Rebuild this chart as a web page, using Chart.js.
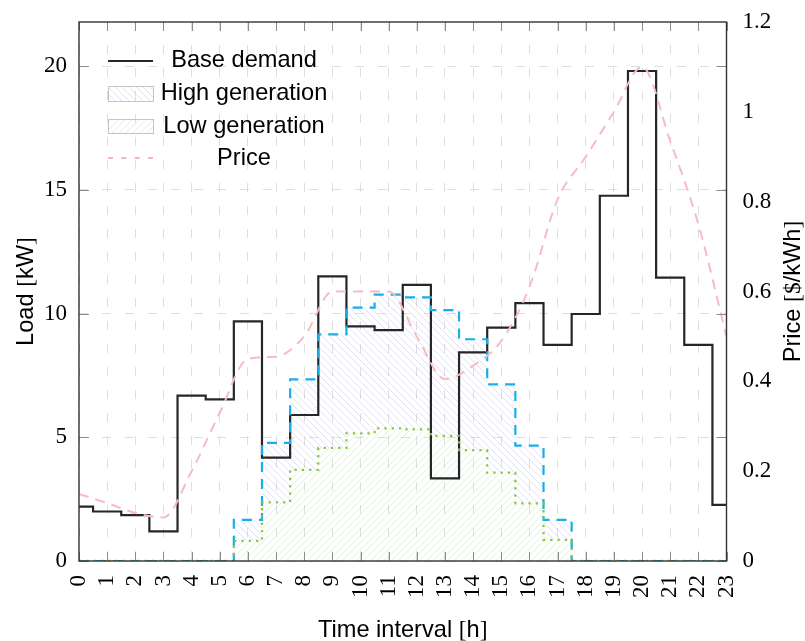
<!DOCTYPE html>
<html>
<head>
<meta charset="utf-8">
<script src="https://cdn.jsdelivr.net/npm/chart.js@4.4.0/dist/chart.umd.min.js"></script>
<style>
  html, body { margin: 0; padding: 0; background: #fff; }
  #wrap { width: 805px; height: 641px; position: relative; }
</style>
</head>
<body>
<div id="wrap"><canvas id="chart"></canvas></div>
<script>
// ---- data ----
const hourLabels = ["0","1","2","3","4","5","6","7","8","9","10","11","12","13","14","15","16","17","18","19","20","21","22","23"];
const baseDemand = [2.2, 2.0, 1.85, 1.2, 6.68, 6.53, 9.68, 4.18, 5.9, 11.5, 9.48, 9.33, 11.16, 3.34, 8.43, 9.43, 10.42, 8.73, 9.98, 14.76, 19.8, 11.45, 8.73, 2.27];
const highGeneration = [0, 0, 0, 0, 0, 0, 1.66, 4.77, 7.34, 9.16, 10.24, 10.76, 10.65, 10.14, 8.96, 7.14, 4.66, 1.66, 0, 0, 0, 0, 0, 0];
const lowGeneration = [0, 0, 0, 0, 0, 0, 0.81, 2.37, 3.68, 4.57, 5.16, 5.36, 5.32, 5.06, 4.48, 3.57, 2.33, 0.85, 0, 0, 0, 0, 0, 0];
const price = [0.149, 0.129, 0.107, 0.097, 0.2, 0.33, 0.45, 0.455, 0.5, 0.6, 0.6, 0.6, 0.5, 0.405, 0.435, 0.49, 0.61, 0.805, 0.9, 1.0, 1.1, 0.935, 0.75, 0.5];
const loadMax = 21.78;
const priceMax = 1.2;

const SANS = '"Liberation Sans", Arial, sans-serif';
const SERIF = '"Liberation Serif", "Times New Roman", serif';
const gridColor = "#dedede";
const gridDash = [9, 14];

const canvas = document.getElementById("chart");
const ctx0 = canvas.getContext("2d");

// hatch patterns for the generation areas
function hatch(color, forward) {
  const s = 7;
  const c = document.createElement("canvas");
  c.width = s; c.height = s;
  const g = c.getContext("2d");
  g.strokeStyle = color;
  g.lineWidth = 1;
  g.beginPath();
  if (forward) {
    g.moveTo(0, s); g.lineTo(s, 0);
    g.moveTo(-1, 1); g.lineTo(1, -1);
    g.moveTo(s - 1, s + 1); g.lineTo(s + 1, s - 1);
  } else {
    g.moveTo(0, 0); g.lineTo(s, s);
    g.moveTo(-1, s - 1); g.lineTo(1, s + 1);
    g.moveTo(s - 1, -1); g.lineTo(s + 1, 1);
  }
  g.stroke();
  return ctx0.createPattern(c, "repeat");
}
const highHatch = hatch("rgba(160,160,240,0.32)", false);
const lowHatch = hatch("rgba(150,220,150,0.3)", true);

function fmt(v) { return String(+v.toFixed(2)); }

// text with mixed fonts (sans words, serif brackets)
function drawParts(ctx, parts, x, y, align) {
  let total = 0;
  parts.forEach(p => { ctx.font = p[1]; total += ctx.measureText(p[0]).width; });
  let cx = align === "center" ? x - total / 2 : x;
  ctx.textAlign = "left";
  parts.forEach(p => {
    ctx.font = p[1];
    ctx.fillText(p[0], cx, y);
    cx += ctx.measureText(p[0]).width;
  });
}

const fSans = "23.6px " + SANS;
const fSerif = "23.6px " + SERIF;

const decor = {
  id: "decor",
  afterDraw(chart) {
    const { ctx, chartArea: a, scales } = chart;
    ctx.save();
    // inward tick marks on all four sides
    ctx.strokeStyle = "#8c8c8c";
    ctx.lineWidth = 1;
    ctx.setLineDash([]);
    ctx.beginPath();
    scales.x.ticks.forEach((t, i) => {
      const px = Math.round(scales.x.getPixelForTick(i)) + 0.5;
      ctx.moveTo(px, a.bottom); ctx.lineTo(px, a.bottom - 9);
      ctx.moveTo(px, a.top); ctx.lineTo(px, a.top + 9);
    });
    scales.y.ticks.forEach(t => {
      const py = Math.round(scales.y.getPixelForValue(t.value)) + 0.5;
      ctx.moveTo(a.left, py); ctx.lineTo(a.left + 10, py);
      ctx.moveTo(a.right, py); ctx.lineTo(a.right - 10, py);
    });
    ctx.stroke();

    // frame
    ctx.strokeStyle = "#333";
    ctx.lineWidth = 1.4;
    ctx.strokeRect(a.left, a.top, a.right - a.left, a.bottom - a.top);

    // axis titles
    ctx.fillStyle = "#000";
    ctx.textBaseline = "alphabetic";
    const midX = (a.left + a.right) / 2;
    const midY = (a.top + a.bottom) / 2;
    drawParts(ctx, [["Time interval ", fSans], ["[", fSerif], ["h", fSans], ["]", fSerif]], midX, 637, "center");
    ctx.save();
    ctx.translate(33, midY);
    ctx.rotate(-Math.PI / 2);
    drawParts(ctx, [["Load ", fSans], ["[", fSerif], ["kW", fSans], ["]", fSerif]], 0, 0, "center");
    ctx.restore();
    ctx.save();
    ctx.translate(800, midY);
    ctx.rotate(-Math.PI / 2);
    drawParts(ctx, [["Price ", fSans], ["[$", fSerif], ["/kWh", fSans], ["]", fSerif]], 0, 0, "center");
    ctx.restore();

    // legend
    const lx0 = 108, lx1 = 153, tx = 244;
    ctx.font = fSans;
    ctx.textAlign = "center";
    ctx.strokeStyle = "#262626";
    ctx.lineWidth = 2.2;
    ctx.beginPath(); ctx.moveTo(lx0, 61); ctx.lineTo(lx1, 61); ctx.stroke();
    ctx.fillText("Base demand", tx, 67);

    ctx.fillStyle = highHatch;
    ctx.fillRect(lx0, 86, lx1 - lx0, 15);
    ctx.strokeStyle = "#c4c4c4"; ctx.lineWidth = 1;
    ctx.strokeRect(lx0 + 0.5, 86.5, lx1 - lx0, 15);
    ctx.fillStyle = "#000";
    ctx.fillText("High generation", tx, 100);

    ctx.fillStyle = lowHatch;
    ctx.fillRect(lx0, 119, lx1 - lx0, 14);
    ctx.strokeRect(lx0 + 0.5, 119.5, lx1 - lx0, 14);
    ctx.fillStyle = "#000";
    ctx.fillText("Low generation", tx, 133);

    ctx.strokeStyle = "#f6b7bb"; ctx.lineWidth = 2;
    ctx.setLineDash([5, 8.3]);
    ctx.beginPath(); ctx.moveTo(lx0, 158); ctx.lineTo(lx1 + 2, 158); ctx.stroke();
    ctx.setLineDash([]);
    ctx.fillText("Price", tx, 165);
    ctx.restore();
  }
};

// keep the plot box where the figure has it
function fixY(w) {
  return s => { s.width = w; s.paddingTop = 0; s.paddingBottom = 0; };
}

const tickFont = { family: SERIF, size: 23 };

const chart = new Chart(canvas, {
  type: "line",
  data: {
    labels: hourLabels,
    datasets: [
      {
        label: "Base demand",
        data: baseDemand,
        stepped: "middle",
        borderColor: "#262626",
        borderWidth: 2.2,
        pointRadius: 0,
        fill: false,
        yAxisID: "y",
        order: 4,
      },
      {
        label: "High generation",
        data: highGeneration,
        stepped: "middle",
        borderColor: "#19aeea",
        borderWidth: 2.2,
        borderDash: [10, 7],
        pointRadius: 0,
        fill: 2,
        backgroundColor: highHatch,
        yAxisID: "y",
        order: 3,
      },
      {
        label: "Low generation",
        data: lowGeneration,
        stepped: "middle",
        borderColor: "#8cc63e",
        borderWidth: 2.3,
        borderDash: [2.3, 5],
        pointRadius: 0,
        fill: "origin",
        backgroundColor: lowHatch,
        yAxisID: "y",
        order: 2,
      },
      {
        label: "Price",
        data: price,
        borderColor: "#f7bcc0",
        borderWidth: 2,
        borderDash: [10, 7],
        cubicInterpolationMode: "monotone",
        pointRadius: 0,
        fill: false,
        yAxisID: "yPrice",
        order: 1,
      },
    ],
  },
  options: {
    responsive: true,
    maintainAspectRatio: false,
    animation: false,
    layout: { padding: { top: 22, left: 0, right: 0, bottom: 0 } },
    plugins: {
      legend: { display: false },
      tooltip: { enabled: false },
      filler: { drawTime: "beforeDatasetsDraw" },
    },
    scales: {
      x: {
        type: "category",
        offset: false,
        grid: { color: gridColor, lineWidth: 1, drawTicks: false },
        border: { display: false, dash: gridDash },
        ticks: {
          autoSkip: false,
          maxRotation: 90,
          minRotation: 90,
          padding: 14,
          color: "#000",
          font: tickFont,
        },
        afterFit: s => { s.height = 80; s.paddingLeft = 0; s.paddingRight = 0; },
      },
      y: {
        position: "left",
        min: 0,
        max: loadMax,
        grid: { color: gridColor, lineWidth: 1, drawTicks: false },
        border: { display: false, dash: gridDash },
        ticks: {
          stepSize: 5,
          includeBounds: false,
          padding: 12,
          color: "#000",
          font: tickFont,
          callback: fmt,
        },
        afterFit: fixY(79),
      },
      yPrice: {
        position: "right",
        min: 0,
        max: priceMax,
        grid: { display: false, drawTicks: false },
        border: { display: false },
        ticks: {
          stepSize: 0.2,
          padding: 16,
          color: "#000",
          font: tickFont,
          callback: fmt,
        },
        afterFit: fixY(78.5),
      },
    },
  },
  plugins: [decor],
});
</script>
</body>
</html>
